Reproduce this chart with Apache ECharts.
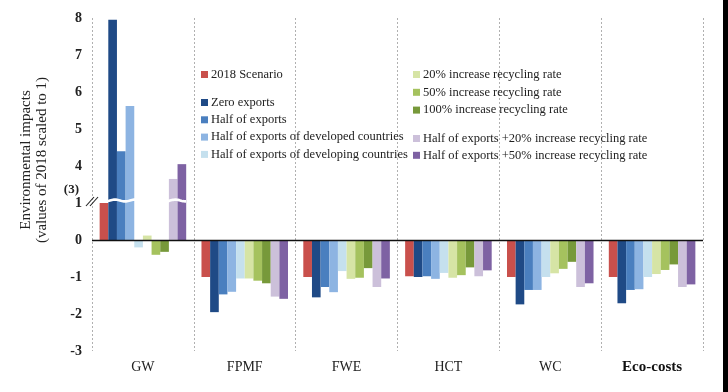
<!DOCTYPE html>
<html>
<head>
<meta charset="utf-8">
<script src="https://cdn.jsdelivr.net/npm/echarts@6/dist/echarts.min.js"></script>
<style>
html,body{margin:0;padding:0;background:#fff;}
#main{width:728px;height:392px;}
</style>
</head>
<body>
<div id="main"></div>
<script>
// ---- data ----
var categories = ['GW', 'FPMF', 'FWE', 'HCT', 'WC', 'Eco-costs'];
var seriesNames = [
  '2018 Scenario', 'Zero exports', 'Half of exports',
  'Half of exports of developed countries', 'Half of exports of developing countries',
  '20% increase recycling rate', '50% increase recycling rate', '100% increase recycling rate',
  'Half of exports +20% increase recycling rate', 'Half of exports +50% increase recycling rate'
];
var s2018      = [1.00, -1.00, -1.00, -0.98, -1.00, -1.00];
var sZero      = [7.95, -1.95, -1.55, -1.00, -1.74, -1.71];
var sHalf      = [4.40, -1.47, -1.27, -0.98, -1.35, -1.35];
var sDeveloped = [5.62, -1.40, -1.41, -1.05, -1.35, -1.33];
var sDeveloping= [-0.20, -1.04, -0.84, -0.89, -1.00, -1.00];
var s20        = [0.12, -1.04, -1.05, -1.02, -0.90, -0.92];
var s50        = [-0.40, -1.10, -1.02, -0.95, -0.78, -0.81];
var s100       = [-0.32, -1.17, -0.76, -0.74, -0.59, -0.66];
var sHalf20    = [3.65, -1.53, -1.27, -0.98, -1.27, -1.27];
var sHalf50    = [4.05, -1.59, -1.04, -0.82, -1.17, -1.20];
var yTickValues = [-3, -2, -1, 0, 1, 3, 4, 5, 6, 7, 8];
// axis break: values from BREAK_LOW up to BREAK_HIGH are cut out
var BREAK_LOW = 1, BREAK_HIGH = 3;

var allSeries = [s2018, sZero, sHalf, sDeveloped, sDeveloping, s20, s50, s100, sHalf20, sHalf50];
var colors = ['#c9504c', '#1f4a86', '#4a7fbf', '#8db4e2', '#c5e0ee',
              '#d6e4a5', '#a5c25e', '#77993a', '#ccc0da', '#7e62a3'];

function toAxis(v) { return v > BREAK_LOW ? v - (BREAK_HIGH - BREAK_LOW) : v; }
function fromAxis(a) { return a > BREAK_LOW ? a + (BREAK_HIGH - BREAK_LOW) : a; }

var serif = 'Liberation Serif';
var chart = echarts.init(document.getElementById('main'));

var series = allSeries.map(function (arr, i) {
  var s = {
    name: seriesNames[i],
    type: 'bar',
    barGap: '0%',
    barCategoryGap: '15%',
    itemStyle: { color: colors[i] },
    data: arr.map(function (v) { return { value: toAxis(v), real: v }; })
  };
  if (i === 0) {
    s.markLine = {
      silent: true, symbol: 'none', label: { show: false },
      lineStyle: { color: '#111', width: 1.4, type: 'solid' },
      data: [{ yAxis: 0 }]
    };
  }
  return s;
});

// axis-break decoration (white wavy gap on tall GW bars + "//" at axis)
series.push({
  type: 'custom',
  silent: true,
  z: 10,
  clip: false,
  data: [[0, BREAK_LOW]],
  renderItem: function (params, api) {
    var c = api.coord([api.value(0), api.value(1)]);
    var bw = api.size([1, 0])[0];
    var left = c[0] - bw / 2;
    var pts = [];
    var x0 = left + 8, x1 = left + bw * 0.93;
    for (var x = x0; x <= x1; x += 1) {
      pts.push([x, c[1] - 2.5 + Math.sin((x - x0) / 3.2) * 0.9]);
    }
    return {
      type: 'group',
      children: [
        { type: 'polyline', shape: { points: pts }, style: { stroke: '#fff', lineWidth: 2.6, fill: null } },
        { type: 'line', shape: { x1: left - 6, y1: c[1] + 3, x2: left + 2, y2: c[1] - 6 }, style: { stroke: '#222', lineWidth: 1.1 } },
        { type: 'line', shape: { x1: left - 2, y1: c[1] + 3, x2: left + 6, y2: c[1] - 6 }, style: { stroke: '#222', lineWidth: 1.1 } }
      ]
    };
  }
});

function legendCfg(names, left, top, gap) {
  return {
    data: names, orient: 'vertical', left: left, top: top, padding: 0,
    itemGap: gap, itemWidth: 7, itemHeight: 7, icon: 'rect',
    textStyle: { fontFamily: serif, fontSize: 12.5, color: '#222', padding: [0, 0, 0, -2] },
    selectedMode: false
  };
}

var option = {
  backgroundColor: '#fff',
  animation: false,
  textStyle: { fontFamily: serif },
  grid: { left: 92, right: 25, top: 18, bottom: 41 },
  legend: [
    legendCfg([seriesNames[0]], 201, 68, 4),
    legendCfg(seriesNames.slice(1, 5), 201, 96, 4.3),
    legendCfg(seriesNames.slice(5, 8), 413, 68, 4.8),
    legendCfg(seriesNames.slice(8, 10), 413, 132, 3.8)
  ],
  xAxis: {
    type: 'category',
    data: categories,
    axisLine: { show: false },
    axisTick: { show: false },
    splitLine: { show: true, lineStyle: { color: '#b0b0b0', type: [2, 2], width: 1 } },
    axisLabel: {
      margin: 9, fontFamily: serif, fontSize: 14, color: '#222',
      formatter: function (v) { return v === 'Eco-costs' ? '{b|' + v + '}' : v; },
      rich: { b: { fontFamily: serif, fontSize: 15, fontWeight: 'bold', color: '#111' } }
    }
  },
  yAxis: {
    type: 'value',
    min: toAxis(yTickValues[0]),
    max: toAxis(yTickValues[yTickValues.length - 1]),
    interval: 1,
    axisLine: { show: false },
    axisTick: { show: false },
    splitLine: { show: false },
    axisLabel: {
      margin: 10, fontFamily: serif, fontSize: 14, fontWeight: 'bold', color: '#222',
      formatter: function (a) {
        if (a === BREAK_LOW) return '{p|(' + BREAK_HIGH + ')}\n{n|' + a + '}\n{e| }';
        var v = fromAxis(a);
        return yTickValues.indexOf(v) >= 0 ? String(v) : '';
      },
      rich: {
        p: { fontFamily: serif, fontSize: 13, fontWeight: 'bold', color: '#222', lineHeight: 12, padding: [0, 3, 0, 0] },
        n: { fontFamily: serif, fontSize: 14, fontWeight: 'bold', color: '#222', lineHeight: 14 },
        e: { fontSize: 8, lineHeight: 12 }
      }
    }
  },
  graphic: [
    {
      type: 'text', x: 34, y: 160, rotation: Math.PI / 2,
      style: {
        text: 'Environmental impacts\n(values of 2018 scaled to 1)',
        fontFamily: serif, fontSize: 15, lineHeight: 16, fill: '#222',
        align: 'center', verticalAlign: 'middle'
      }
    },
    { type: 'rect', shape: { x: 723, y: 0, width: 5, height: 392 }, style: { fill: '#000' } }
  ],
  series: series
};
chart.setOption(option);
</script>
</body>
</html>
